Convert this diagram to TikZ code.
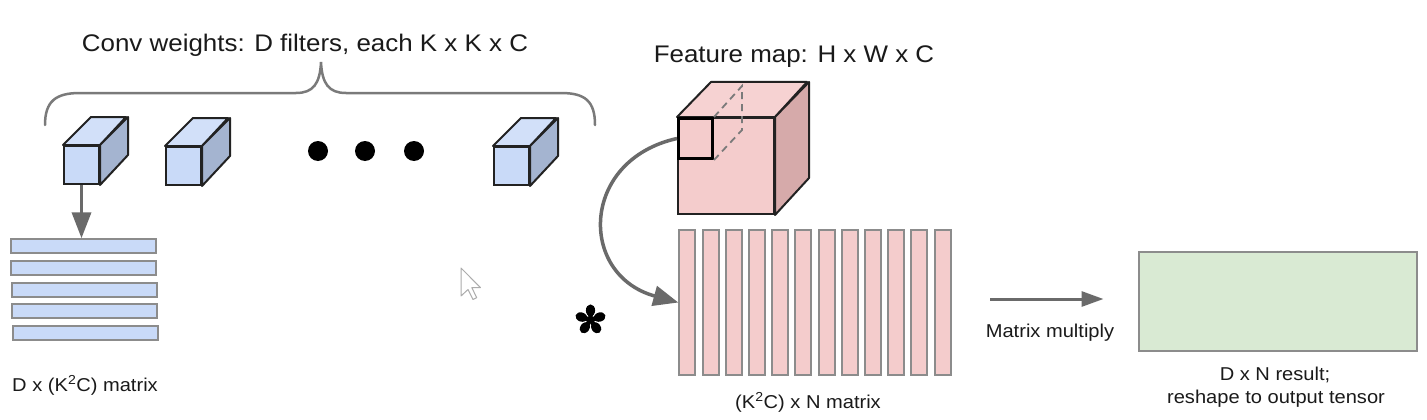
\documentclass[tikz,border=0pt]{standalone}
\usepackage{fontspec}
\setmainfont{Liberation Sans}[FakeStretch=1.08]
\usetikzlibrary{arrows.meta}
\definecolor{bluef}{HTML}{C9DAF8}
\definecolor{bluet}{HTML}{D2E0F9}
\definecolor{blues}{HTML}{A4B4D0}
\definecolor{pinkf}{HTML}{F4CCCC}
\definecolor{pinkt}{HTML}{F6D2D2}
\definecolor{pinks}{HTML}{D6AAAA}
\definecolor{greenf}{HTML}{D9EAD3}
\definecolor{edgec}{HTML}{222222}
\definecolor{gborder}{HTML}{8C8C8C}
\definecolor{arrowc}{HTML}{6A6A6A}
\definecolor{bracec}{HTML}{7A7A7A}
\definecolor{txt}{HTML}{1A1A1A}
\tikzset{
  bigtext/.style={font=\fontsize{24}{28}\selectfont, anchor=base, inner sep=0pt, text=txt},
  smalltext/.style={font=\fontsize{18.6}{23}\selectfont, anchor=base, inner sep=0pt, align=center, text=txt},
  face/.style={draw=edgec, line width=2pt, line join=round},
  cubefront/.style={rectangle, draw=edgec, line width=2pt, inner sep=0pt, anchor=north west},
  rowbar/.style={rectangle, draw=gborder, line width=2pt, fill=bluef, inner sep=0pt, minimum width=145pt, minimum height=14pt, anchor=north west},
  colbar/.style={rectangle, draw=gborder, line width=2pt, fill=pinkf, inner sep=0pt, minimum width=16pt, minimum height=145pt, anchor=north west},
  garrow/.style={draw=arrowc, line width=3.5pt, -{Triangle[length=26pt,width=19pt]}},
  garrowsmall/.style={draw=arrowc, line width=3pt, -{Triangle[length=22pt,width=15pt]}},
  dotnode/.style={circle, fill=black, inner sep=0pt, minimum size=20pt},
}
\begin{document}
\begin{tikzpicture}[x=1pt,y=-1pt]
\useasboundingbox[fill=white] (0,0) rectangle (1427,420);

% title texts
\node[bigtext] (t1) at (305,52) {Conv weights: D filters, each K x K x C};
\node[bigtext] (t2) at (794,63) {Feature map: H x W x C};

% brace
\draw[bracec, line width=2.5pt, line cap=round]
  (45,125) .. controls (45,101) and (56,93) .. (80,93) -- (296,93)
  .. controls (313,93) and (320,84) .. (321,62)
  .. controls (322,84) and (329,93) .. (346,93) -- (561,93)
  .. controls (585,93) and (595,101) .. (595,125);

% blue cubes
\foreach \n/\x/\y in {c1/63/145, c2/165/146, c3/493/146}{
  \node[cubefront, fill=bluef, minimum width=35pt, minimum height=38pt] (\n) at (\x,\y) {};
  \draw[face, fill=bluet] (\n.north west) -- ++(28,-28) -- ++(35,0) -- (\n.north east) -- cycle;
  \draw[face, fill=blues] (\n.north east) -- ++(28,-28) -- ++(0,38) -- (\n.south east) -- cycle;
}

% dots
\node[dotnode] (d1) at (318,151) {};
\node[dotnode] (d2) at (365,151) {};
\node[dotnode] (d3) at (414,151) {};

% blue rows
\foreach \i in {1,...,5}{
  \node[rowbar] (b\i) at ({9+0.6*\i},{238.3+21.7*(\i-1)}) {};
}
\draw[garrow] (c1.south) -- (c1.south |- b1.north);
\node[smalltext] (t3) at (85,391) {D x (K\textsuperscript{2}C) matrix};

% feature map cube
\node[cubefront, fill=pinkf, minimum width=96pt, minimum height=96pt] (fm) at (677,117) {};
\draw[face, fill=pinkt] (fm.north west) -- ++(34,-35) -- ++(96,0) -- (fm.north east) -- cycle;
\draw[face, fill=pinks] (fm.north east) -- ++(34,-35) -- ++(0,96) -- (fm.south east) -- cycle;
\node[rectangle, draw=black, line width=3pt, inner sep=0pt, minimum width=34pt, minimum height=40pt, anchor=north west] (sq) at (677,117) {};
\draw[draw=bracec, line width=1.8pt, dash pattern=on 7pt off 5pt]
  (sq.north east) -- ++(28,-31) -- ++(0,44) -- (sq.south east);

% columns
\foreach \i in {0,...,11}{
  \node[colbar] (col\i) at ({678.3+23.2*\i},229) {};
}
\draw[garrow, -{Triangle[length=25pt,width=20pt]}] (sq.west) .. controls (580,160) and (578,275) .. (col0.west);
\node[smalltext] (t4) at (808,408) {(K\textsuperscript{2}C) x N matrix};

% star operator
\begin{scope}[shift={(590.5,320)}, yscale=-1]
  \foreach \a in {0,72,144,216,288}{
    \fill[black, rotate=\a] (0,9.6) ellipse (4.6pt and 6pt);
    \fill[black, rotate=\a] (-1.4,0) -- (-3,7) -- (3,7) -- (1.4,0) -- cycle;
  }
  \fill[black] (0,0) circle (3.6pt);
\end{scope}

% cursor
\draw[gray!65, fill=white, line width=1pt, line join=round]
  (461,268) -- (461,296) -- (468,289.5) -- (473,299.5) -- (476.7,297.7) -- (471.8,287.6) -- (480.5,287.6) -- cycle;

% matrix multiply
\coordinate (ma) at (990,299);
\coordinate (mb) at (1103.5,299);
\draw[garrowsmall] (ma) -- (mb);
\node[smalltext] (t5) at (1050,337) {Matrix multiply};

% result
\node[rectangle, draw=gborder, line width=2pt, fill=greenf, inner sep=0pt, minimum width=278pt, minimum height=99pt, anchor=north west] (res) at (1137.5,251) {};
\node[smalltext] (t6) at (1275,380) {D x N result;};
\node[smalltext] (t7) at (1276,403) {reshape to output tensor};
\end{tikzpicture}
\end{document}
